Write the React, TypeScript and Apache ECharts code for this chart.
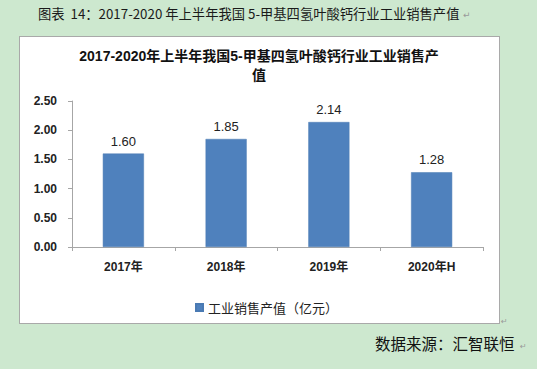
import React, { useEffect, useRef } from "react";
import * as echarts from "echarts";

const categories = ["2017年", "2018年", "2019年", "2020年H"];
const values = [1.6, 1.85, 2.14, 1.28];
const seriesName = "工业销售产值（亿元）";
const chartTitle = "2017-2020年上半年我国5-甲基四氢叶酸钙行业工业销售产\n值";
const header = "图表  14：2017-2020 年上半年我国 5-甲基四氢叶酸钙行业工业销售产值";
const source = "数据来源：汇智联恒";
const yMin = 0;
const yMax = 2.5;
const yInterval = 0.5;

const FONT = "'Liberation Sans', 'Noto Sans CJK SC', sans-serif";
const CJK = "'Noto Sans CJK SC', 'Liberation Sans', sans-serif";

export default function App() {
  const ref = useRef<HTMLDivElement>(null);
  useEffect(() => {
    document.body.style.margin = "0";
    const chart = echarts.init(ref.current!, undefined, { renderer: "svg" });
    chart.setOption({
      animation: false,
      backgroundColor: "transparent",
      textStyle: { fontFamily: FONT },
      grid: { left: 72, right: 54, top: 101, bottom: 122, containLabel: false },
      legend: {
        show: true,
        left: 190,
        top: 296,
        itemWidth: 7,
        itemHeight: 7,
        icon: "rect",
        textStyle: { fontSize: 13, color: "#222", fontFamily: CJK },
        data: [seriesName],
      },
      xAxis: {
        type: "category",
        data: categories,
        axisLine: { lineStyle: { color: "#a6a6a6", width: 1 } },
        axisTick: { show: true, length: 4, lineStyle: { color: "#a6a6a6" } },
        axisLabel: { color: "#222", fontSize: 12, fontWeight: "bold", margin: 14, fontFamily: FONT },
      },
      yAxis: {
        type: "value",
        min: yMin,
        max: yMax,
        interval: yInterval,
        axisLine: { show: true, lineStyle: { color: "#a6a6a6", width: 1 } },
        axisTick: { show: true, length: 4, lineStyle: { color: "#a6a6a6" } },
        splitLine: { show: false },
        axisLabel: {
          color: "#222",
          fontSize: 12,
          fontWeight: "bold",
          margin: 15,
          formatter: (v: number) => v.toFixed(2),
        },
      },
      series: [
        {
          name: seriesName,
          type: "bar",
          data: values,
          barWidth: "40%",
          itemStyle: { color: "#4f81bd", borderColor: "#4a7ab3", borderWidth: 0.5 },
          label: {
            show: true,
            position: "top",
            distance: 6,
            color: "#222",
            fontSize: 13,
            fontFamily: FONT,
            formatter: (p: any) => Number(p.value).toFixed(2),
          },
        },
      ],
      graphic: [
        {
          type: "text",
          x: 259,
          y: 46.5,
          style: {
            text: chartTitle,
            fill: "#111",
            font: "bold 14px " + FONT,
            textAlign: "center",
            textVerticalAlign: "top",
            lineHeight: 19,
          },
        },
        {
          type: "text",
          x: 38,
          y: 13.5,
          style: {
            text: header,
            fill: "#1a1a1a",
            font: "13.3px " + CJK,
            textAlign: "left",
            textVerticalAlign: "middle",
          },
        },
        {
          type: "text",
          x: 463,
          y: 15,
          style: { text: "↵", fill: "#999", font: "9px 'DejaVu Sans'", textVerticalAlign: "middle" },
        },
        {
          type: "text",
          x: 375,
          y: 343,
          style: {
            text: source,
            fill: "#111",
            font: "15.5px " + CJK,
            textAlign: "left",
            textVerticalAlign: "middle",
          },
        },
        {
          type: "text",
          x: 520,
          y: 346,
          style: { text: "↵", fill: "#999", font: "8px 'DejaVu Sans'", textVerticalAlign: "middle" },
        },
        {
          type: "text",
          x: 501,
          y: 321,
          style: { text: "↵", fill: "#999", font: "8px 'DejaVu Sans'", textVerticalAlign: "middle" },
        },
      ],
    });
    return () => chart.dispose();
  }, []);
  return (
    <div style={{ position: "relative", width: 537, height: 369, background: "#cde8cf", overflow: "hidden" }}>
      <div
        style={{
          position: "absolute",
          left: 19,
          top: 36,
          width: 479,
          height: 286,
          background: "#fff",
          border: "1px solid #a9a9a9",
        }}
      />
      <div ref={ref} style={{ position: "absolute", left: 0, top: 0, width: 537, height: 369 }} />
    </div>
  );
}
